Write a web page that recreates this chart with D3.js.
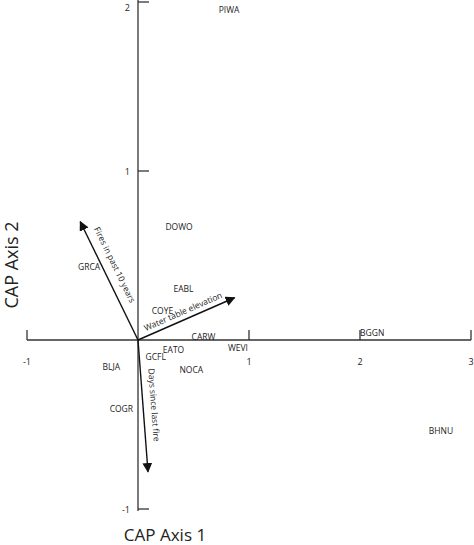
<!DOCTYPE html>
<html>
<head>
<meta charset="utf-8">
<script src="https://cdn.jsdelivr.net/npm/d3@7"></script>
<style>
  body { margin: 0; background: #fff; }
  text { font-family: 'Open Sans', sans-serif; fill: #222; }
</style>
</head>
<body>
<svg id="chart" width="474" height="545"></svg>
<script>
// species scores on CAP axes
const species = ['PIWA', 'DOWO', 'GRCA', 'EABL', 'COYE', 'CARW', 'WEVI', 'EATO', 'GCFL', 'NOCA', 'BLJA', 'COGR', 'BGGN', 'BHNU']
const axis1 = [0.82, 0.37, -0.44, 0.41, 0.22, 0.59, 0.90, 0.32, 0.16, 0.48, -0.24, -0.15, 2.11, 2.73]
const axis2 = [1.95, 0.67, 0.43, 0.30, 0.17, 0.02, -0.05, -0.06, -0.10, -0.18, -0.16, -0.41, 0.04, -0.54]

// environmental vectors
const vectors = ['Fires in past 10 years', 'Water table elevation', 'Days since last fire']
const vecX = [-0.52, 0.87, 0.09]
const vecY = [0.70, 0.25, -0.78]

const xTicks = [-1, 1, 2, 3]
const yTicks = [2, 1, -1]

const svg = d3.select('#chart')
const x = d3.scaleLinear().domain([-1, 3]).range([27, 471])
const y = d3.scaleLinear().domain([-1, 2]).range([509, 2])

svg.append('defs').append('marker')
  .attr('id', 'head')
  .attr('viewBox', '0 0 10 10')
  .attr('refX', 9).attr('refY', 5)
  .attr('markerWidth', 7).attr('markerHeight', 7)
  .attr('orient', 'auto')
  .append('path').attr('d', 'M0,0L10,5L0,10Z').attr('fill', '#111')

// axes through origin
const ax = svg.append('g').attr('stroke', '#333').attr('stroke-width', 1.3)
ax.append('line').attr('x1', x(-1)).attr('x2', x(3)).attr('y1', y(0)).attr('y2', y(0))
ax.append('line').attr('x1', x(0)).attr('x2', x(0)).attr('y1', 0).attr('y2', y(-1) + 2)
ax.selectAll('.xt').data(xTicks).join('line')
  .attr('x1', d => x(d)).attr('x2', d => x(d)).attr('y1', y(0) - 10).attr('y2', y(0))
ax.selectAll('.yt').data(yTicks).join('line')
  .attr('x1', x(0)).attr('x2', x(0) + 11).attr('y1', d => y(d)).attr('y2', d => y(d))

svg.selectAll('.xl').data(xTicks).join('text')
  .attr('x', d => x(d)).attr('y', y(0) + 25)
  .attr('text-anchor', 'middle').attr('font-size', 9)
  .text(d => d)
svg.selectAll('.yl').data(yTicks).join('text')
  .attr('x', x(0) - 8).attr('y', d => y(d) + (d === 2 ? 9 : 4))
  .attr('text-anchor', 'end').attr('font-size', 9)
  .text(d => d)

// species labels
svg.selectAll('.sp').data(species).join('text')
  .attr('x', (d, i) => x(axis1[i])).attr('y', (d, i) => y(axis2[i]) + 3)
  .attr('text-anchor', 'middle').attr('font-size', 8.5)
  .text(d => d)

// vectors
const labelOff = [-9, -5, -8]
const labelShift = [12, 0, 0]
vectors.forEach((name, i) => {
  const x0 = x(0), y0 = y(0), x1 = x(vecX[i]), y1 = y(vecY[i])
  svg.append('line')
    .attr('x1', x0).attr('y1', y0).attr('x2', x1).attr('y2', y1)
    .attr('stroke', '#111').attr('stroke-width', 1.4)
    .attr('marker-end', 'url(#head)')
  let ang = Math.atan2(y1 - y0, x1 - x0) * 180 / Math.PI
  if (ang < -90) ang += 180
  const mx = (x0 + x1) / 2, my = (y0 + y1) / 2
  svg.append('text')
    .attr('transform', `translate(${mx},${my}) rotate(${ang}) translate(${-labelShift[i]},${labelOff[i]})`)
    .attr('text-anchor', 'middle').attr('font-size', 8.5)
    .text(name)
})

// axis titles
svg.append('text')
  .attr('transform', 'translate(18,265) rotate(-90)')
  .attr('text-anchor', 'middle').attr('font-size', 18)
  .text('CAP Axis 2')
svg.append('text')
  .attr('x', 165).attr('y', 541)
  .attr('text-anchor', 'middle').attr('font-size', 17)
  .text('CAP Axis 1')
</script>
</body>
</html>
